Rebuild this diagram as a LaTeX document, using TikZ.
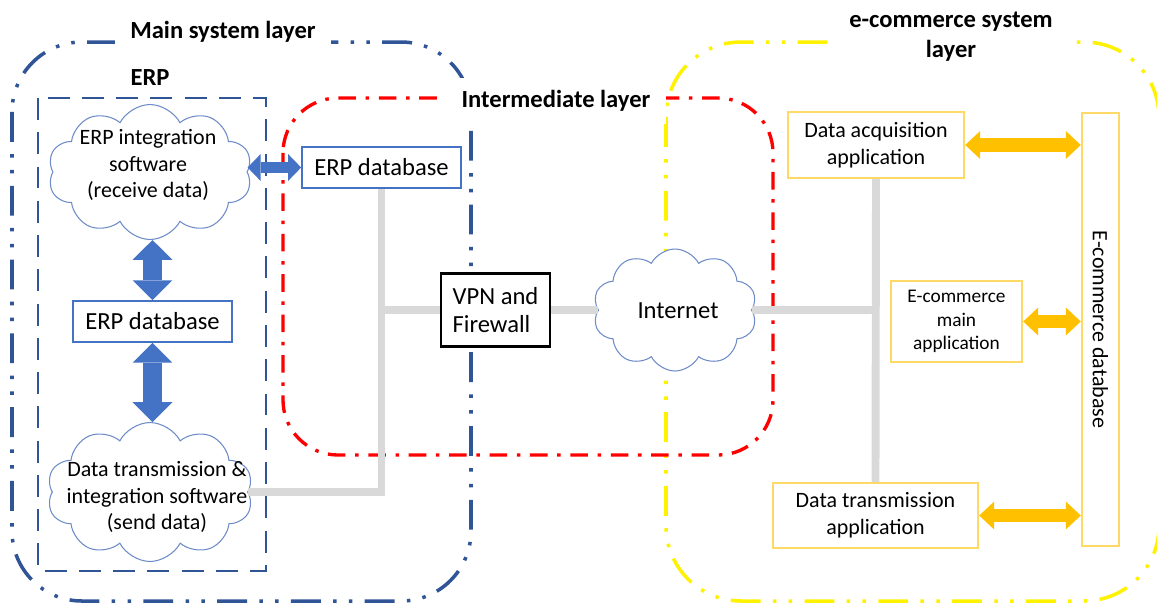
\documentclass[tikz,border=0pt]{standalone}
\usepackage{fontspec}
\setmainfont{Carlito}
\usetikzlibrary{shapes.symbols,arrows.meta,calc}

\definecolor{layerblue}{RGB}{47,85,151}
\definecolor{dbblue}{RGB}{68,114,196}
\definecolor{cloudblue}{RGB}{110,140,200}
\definecolor{appline}{RGB}{255,217,102}
\definecolor{apparrow}{RGB}{255,192,0}
\definecolor{wiregray}{RGB}{217,217,217}

\def\bigtxt{\fontsize{14}{16}\selectfont}
\def\midtxt{\fontsize{12.5}{15.3}\selectfont}
\def\smltxt{\fontsize{11}{13.3}\selectfont}
\def\ttltxt{\fontsize{14}{17}\selectfont\bfseries}

\tikzset{
  mainlayer/.style={layerblue, line width=2pt, rounded corners=1.4cm,
    dash pattern=on 17pt off 7pt on 2pt off 7pt on 2pt off 7pt},
  ecomlayer/.style={yellow, line width=2pt, rounded corners=1.5cm,
    dash pattern=on 17pt off 7pt on 2pt off 7pt on 2pt off 7pt},
  midlayer/.style={red, line width=1.9pt, rounded corners=1.1cm,
    dash pattern=on 10pt off 5.5pt on 2pt off 5.5pt},
  erpbox/.style={layerblue, line width=1.6pt, dash pattern=on 12.5pt off 7pt},
  layertitle/.style={font=\ttltxt, fill=white, inner xsep=9pt, inner ysep=7pt, align=center},
  softcloud/.style={cloud, cloud puffs=10, cloud puff arc=125, cloud ignores aspect,
    draw=cloudblue, line width=0.6pt, fill=white, inner sep=0pt},
  dbbox/.style={draw=dbblue, line width=1pt, fill=white, font=\bigtxt,
    minimum width=3.18cm, minimum height=0.82cm},
  appbox/.style={draw=appline, line width=1.4pt, fill=white, font=\midtxt, align=center},
  blockarrow/.style n args={3}{line width=#1,
    {Triangle[width=#2,length=#3,line width=0pt]}-{Triangle[width=#2,length=#3,line width=0pt]}},
  wire/.style={wiregray, line width=4.5pt}
}

\begin{document}
\begin{tikzpicture}[x=0.02cm, y=-0.02cm, font=\bigtxt]
\useasboundingbox (0,0) rectangle (1157,603);

% layers
\draw[mainlayer] (12,42) rectangle (471,601);
\draw[ecomlayer] (666,42) rectangle (1159,601);
\draw[midlayer] (283,98) rectangle (773,455);
\draw[erpbox] (38,98) rectangle (266,571);

\node[layertitle] (maintitle) at (223,32) {Main system layer};
\node[layertitle, fill=none] (erptitle) at (150,78) {ERP};
\node[layertitle] (midtitle) at (556,101) {Intermediate layer};
\node[layertitle] (ecomtitle) at (951,37) {e-commerce system\\layer};

% ERP side
\node[softcloud, minimum width=4.08cm, minimum height=2.7cm] (recvsw) at (150,172) {};
\node[align=center, font=\midtxt] (recvtext) at (148,165) {ERP integration\\software\\(receive data)};
\node[dbbox] (erpdbB) at (152.5,321.5) {ERP database};
\node[softcloud, minimum width=4.12cm, minimum height=2.78cm] (sendsw) at (150,492) {};
\node[align=center, font=\midtxt] (sendtext) at (157,497) {Data transmission \&\\integration software\\(send data)};

% intermediate
\node[dbbox] (erpdbA) at (381.5,167.5) {ERP database};
\node[draw, line width=1.2pt, fill=white, align=left,
  minimum width=2.18cm, minimum height=1.46cm] (vpn) at (495.5,310) {VPN and\\Firewall};
\node[softcloud, minimum width=3.28cm, minimum height=2.44cm] (inet) at (675,310) {};
\node (inettext) at (678,311) {Internet};

% e-commerce side
\node[appbox, minimum width=3.52cm, minimum height=1.32cm] (acq) at (876,145) {Data acquisition\\application};
\node[appbox, minimum width=2.62cm, minimum height=1.62cm, font=\smltxt] (mainapp) at (956.5,321.5) {E-commerce\\main\\application};
\node[appbox, minimum width=4.1cm, minimum height=1.3cm] (trans) at (875.5,515.5) {Data transmission\\application};
\node[appbox, minimum width=0.74cm, minimum height=8.66cm] (ecdb) at (1100.5,329.5) {\rotatebox{-90}{E-commerce database}};

% wires
\coordinate (tap) at (erpdbA.south |- vpn.west);
\coordinate (hub) at (acq.south |- inet.east);
\draw[wire] (erpdbA.south) -- (erpdbA.south |- sendsw.east) -- (sendsw.east);
\draw[wire] (tap) -- (vpn.west);
\draw[wire] (vpn.east) -- (inet.west);
\draw[wire] (inet.east) -- (hub);
\draw[wire] (acq.south) -- (trans.north);

% block arrows
\draw[dbblue, blockarrow={6.8pt}{15.3pt}{7.4pt}] (recvsw.east |- erpdbA.west) -- (erpdbA.west);
\draw[dbblue, blockarrow={11.3pt}{22.7pt}{11.3pt}] (erpdbB.north |- recvsw.south) -- (erpdbB.north);
\draw[dbblue, blockarrow={11.3pt}{22.7pt}{11.3pt}] (erpdbB.south) -- (erpdbB.south |- sendsw.north);
\draw[apparrow, blockarrow={7.9pt}{15.9pt}{8.5pt}] (acq.east) -- (acq.east -| ecdb.west);
\draw[apparrow, blockarrow={7.9pt}{15.9pt}{8.5pt}] (mainapp.east) -- (mainapp.east -| ecdb.west);
\draw[apparrow, blockarrow={7.9pt}{15.9pt}{8.5pt}] (trans.east) -- (trans.east -| ecdb.west);
\end{tikzpicture}
\end{document}
